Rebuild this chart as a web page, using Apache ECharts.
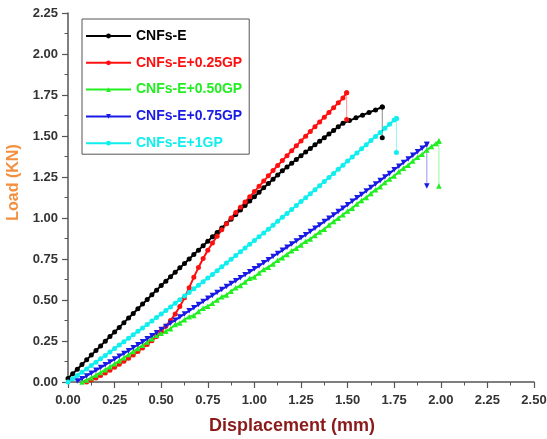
<!DOCTYPE html>
<html>
<head>
<meta charset="utf-8">
<script src="https://cdn.jsdelivr.net/npm/echarts@6/dist/echarts.min.js"></script>
<style>
  html, body { margin: 0; padding: 0; background: #ffffff; }
  #chart { width: 547px; height: 439px; }
</style>
</head>
<body>
<div id="chart"></div>
<script>
// Displacement grid (mm) shared by the load readings below
const DISP = [
  0, 0.025, 0.05, 0.075, 0.1, 0.125, 0.15, 0.175, 0.2, 0.225,
  0.25, 0.275, 0.3, 0.325, 0.35, 0.375, 0.4, 0.425, 0.45, 0.475,
  0.5, 0.525, 0.55, 0.575, 0.6, 0.625, 0.65, 0.675, 0.7, 0.725,
  0.75, 0.775, 0.8, 0.825, 0.85, 0.875, 0.9, 0.925, 0.95, 0.975,
  1.0, 1.025, 1.05, 1.075, 1.1, 1.125, 1.15, 1.175, 1.2, 1.225,
  1.25, 1.275, 1.3, 1.325, 1.35, 1.375, 1.4, 1.425, 1.45, 1.475,
  1.5, 1.525, 1.55, 1.575, 1.6, 1.625, 1.65, 1.675, 1.7, 1.725,
  1.75, 1.775, 1.8, 1.825, 1.85, 1.875, 1.9, 1.925, 1.95, 1.975, 2.0
];

// Load (kN) per specimen, aligned with DISP (null = no reading yet)
const LOAD_E = [
  0.022, 0.05, 0.078, 0.107, 0.135, 0.164, 0.192, 0.22, 0.249, 0.277,
  0.305, 0.333, 0.362, 0.39, 0.418, 0.447, 0.475, 0.503, 0.532, 0.56,
  0.588, 0.615, 0.642, 0.669, 0.696, 0.723, 0.75, 0.777, 0.804, 0.831,
  0.858, 0.885, 0.912, 0.939, 0.966, 0.993, 1.022, 1.049, 1.076, 1.103,
  1.13, 1.157, 1.184, 1.21, 1.236, 1.262, 1.288, 1.311, 1.334, 1.357,
  1.38, 1.402, 1.424, 1.446, 1.468, 1.49, 1.512, 1.534, 1.556, 1.578
];
const END_E = [[1.51, 1.594], [1.545, 1.611], [1.58, 1.627], [1.615, 1.643], [1.65, 1.659], [1.686, 1.677]];
const DROP_E = [[1.686, 1.677], [1.686, 1.49]];

const LOAD_025 = [
  null, null, null, null, 0, 0.012, 0.025, 0.04, 0.055, 0.072,
  0.09, 0.108, 0.126, 0.145, 0.165, 0.186, 0.207, 0.229, 0.252, 0.278,
  0.31, 0.34, 0.375, 0.415, 0.46, 0.513, 0.575, 0.638, 0.698, 0.753,
  0.803, 0.848, 0.889, 0.928, 0.965, 1.0, 1.033, 1.065, 1.097, 1.129,
  1.161, 1.193, 1.225, 1.257, 1.289, 1.32, 1.35, 1.38, 1.41, 1.44,
  1.47, 1.499, 1.528, 1.557, 1.586, 1.615, 1.644, 1.673, 1.702, 1.731
];
const END_025 = [[1.495, 1.764]];
const DROP_025 = [[1.495, 1.764], [1.495, 1.60]];

const LOAD_050 = [
  null, null, null, 0, 0.012, 0.026, 0.042, 0.058, 0.075, 0.093,
  0.111, 0.129, 0.148, 0.167, 0.186, 0.205, 0.224, 0.244, 0.264, 0.285,
  0.297, 0.31, 0.325, 0.35, 0.36, 0.38, 0.398, 0.405, 0.43, 0.45,
  0.462, 0.48, 0.5, 0.52, 0.53, 0.553, 0.575, 0.588, 0.61, 0.632,
  0.64, 0.665, 0.686, 0.7, 0.72, 0.742, 0.758, 0.778, 0.8, 0.815,
  0.836, 0.858, 0.872, 0.894, 0.915, 0.932, 0.957, 0.978, 0.998, 1.02,
  1.042, 1.06, 1.085, 1.107, 1.125, 1.15, 1.172, 1.19, 1.216, 1.238,
  1.256, 1.282, 1.304, 1.322, 1.348, 1.37, 1.388, 1.414, 1.436, 1.455
];
const END_050 = [[1.99, 1.47]];
const DROP_050 = [[1.99, 1.47], [1.99, 1.195]];

const LOAD_075 = [
  null, null, 0.006, 0.02, 0.037, 0.054, 0.071, 0.088, 0.105, 0.122,
  0.14, 0.157, 0.174, 0.191, 0.209, 0.227, 0.245, 0.263, 0.282, 0.301,
  0.32, 0.339, 0.358, 0.377, 0.396, 0.415, 0.434, 0.453, 0.472, 0.491,
  0.51, 0.528, 0.546, 0.564, 0.582, 0.6, 0.618, 0.636, 0.654, 0.672,
  0.69, 0.708, 0.727, 0.746, 0.765, 0.784, 0.803, 0.822, 0.841, 0.86,
  0.879, 0.898, 0.918, 0.938, 0.958, 0.978, 0.998, 1.018, 1.039, 1.06,
  1.081, 1.102, 1.123, 1.144, 1.165, 1.186, 1.207, 1.228, 1.25, 1.272,
  1.294, 1.316, 1.338, 1.36, 1.382, 1.404, 1.426, 1.448
];
const END_075 = [];
const DROP_075 = [[1.925, 1.448], [1.925, 1.195]];

const LOAD_1 = [
  0, 0.02, 0.04, 0.06, 0.08, 0.101, 0.121, 0.142, 0.162, 0.183,
  0.204, 0.225, 0.246, 0.267, 0.288, 0.309, 0.33, 0.351, 0.372, 0.393,
  0.414, 0.436, 0.458, 0.48, 0.502, 0.524, 0.546, 0.568, 0.59, 0.612,
  0.634, 0.656, 0.679, 0.702, 0.725, 0.748, 0.771, 0.794, 0.817, 0.84,
  0.863, 0.886, 0.909, 0.932, 0.956, 0.98, 1.004, 1.028, 1.052, 1.076,
  1.1, 1.124, 1.148, 1.172, 1.197, 1.222, 1.247, 1.272, 1.297, 1.322,
  1.347, 1.372, 1.397, 1.422, 1.447, 1.472, 1.497, 1.522, 1.547, 1.572,
  1.597
];
const END_1 = [[1.762, 1.607]];
const DROP_1 = [[1.762, 1.607], [1.762, 1.40]];

const SERIES_NAMES = ['CNFs-E', 'CNFs-E+0.25GP', 'CNFs-E+0.50GP', 'CNFs-E+0.75GP', 'CNFs-E+1GP'];
const X_TICKS = [0, 0.25, 0.5, 0.75, 1.0, 1.25, 1.5, 1.75, 2.0, 2.25, 2.5];
const Y_TICKS = [0, 0.25, 0.5, 0.75, 1.0, 1.25, 1.5, 1.75, 2.0, 2.25];

function toPairs(loads, tail) {
  const pts = [];
  loads.forEach((v, i) => { if (v !== null) pts.push([DISP[i], v]); });
  return pts.concat(tail);
}

const FONT = "'Liberation Sans', Arial, sans-serif";
const AXIS_COLOR = '#555555';

const specs = [
  { name: SERIES_NAMES[0], loads: LOAD_E,   end: END_E,   drop: DROP_E,   color: '#000000', symbol: 'circle',   size: 5,   rotate: 0 },
  { name: SERIES_NAMES[1], loads: LOAD_025, end: END_025, drop: DROP_025, color: '#ff1010', symbol: 'circle',   size: 5,   rotate: 0 },
  { name: SERIES_NAMES[2], loads: LOAD_050, end: END_050, drop: DROP_050, color: '#22ee22', symbol: 'triangle', size: 5.5, rotate: 0 },
  { name: SERIES_NAMES[3], loads: LOAD_075, end: END_075, drop: DROP_075, color: '#1a1ae6', symbol: 'triangle', size: 5.5, rotate: 180 },
  { name: SERIES_NAMES[4], loads: LOAD_1,   end: END_1,   drop: DROP_1,   color: '#11eeee', symbol: 'circle',   size: 5,   rotate: 0 }
];

const chart = echarts.init(document.getElementById('chart'), null, { renderer: 'canvas' });

const axisCommon = {
  type: 'value',
  nameLocation: 'middle',
  axisLine: { show: true, lineStyle: { color: AXIS_COLOR, width: 1.5 } },
  axisTick: { show: true, inside: false, length: 6, lineStyle: { color: AXIS_COLOR, width: 1.2 } },
  minorTick: { show: true, splitNumber: 2, length: 3.5, lineStyle: { color: AXIS_COLOR, width: 1 } },
  splitLine: { show: false },
  minorSplitLine: { show: false }
};

// Each specimen: main curve (with legend) plus a thin, lighter failure drop
const seriesList = [];
specs.forEach(s => {
  seriesList.push({
    name: s.name,
    type: 'line',
    data: toPairs(s.loads, s.end),
    symbol: s.symbol,
    symbolSize: s.size,
    symbolRotate: s.rotate,
    showSymbol: true,
    showAllSymbol: true,
    clip: false,
    lineStyle: { color: s.color, width: 2 },
    itemStyle: { color: s.color },
    emphasis: { disabled: true },
    silent: true
  });
});
specs.forEach(s => {
  seriesList.push({
    name: s.name,
    type: 'line',
    data: s.drop,
    symbol: s.symbol,
    symbolSize: s.size,
    symbolRotate: s.rotate,
    showSymbol: true,
    clip: false,
    lineStyle: { color: s.color, width: 1, opacity: 0.45 },
    itemStyle: { color: s.color },
    emphasis: { disabled: true },
    silent: true
  });
});

chart.setOption({
  animation: false,
  backgroundColor: '#ffffff',
  grid: { left: 68, right: 13, top: 13, bottom: 57, containLabel: false, outerBoundsMode: 'none' },
  legend: {
    orient: 'vertical',
    left: 82,
    top: 19,
    padding: [10, 7, 4, 3],
    itemGap: 12.8,
    itemWidth: 45,
    itemHeight: 6,
    borderColor: '#555555',
    borderWidth: 1,
    selectedMode: false,
    textStyle: { fontFamily: FONT, fontWeight: 'bold', fontSize: 14 },
    data: specs.map(s => ({ name: s.name, textStyle: { color: s.color } }))
  },
  xAxis: Object.assign({}, axisCommon, {
    min: X_TICKS[0],
    max: X_TICKS[X_TICKS.length - 1],
    interval: X_TICKS[1] - X_TICKS[0],
    name: 'Displacement (mm)',
    nameGap: 35,
    nameTextStyle: { color: '#8b1a1a', fontFamily: FONT, fontWeight: 'bold', fontSize: 18, padding: [0, 18, 0, 0] },
    axisLabel: { formatter: v => v.toFixed(2), fontFamily: FONT, fontWeight: 'bold', fontSize: 13, color: '#333333', margin: 12 }
  }),
  yAxis: Object.assign({}, axisCommon, {
    min: Y_TICKS[0],
    max: Y_TICKS[Y_TICKS.length - 1],
    interval: Y_TICKS[1] - Y_TICKS[0],
    name: 'Load (KN)',
    nameGap: 36,
    nameRotate: 90,
    nameTextStyle: { color: '#f39040', fontFamily: FONT, fontWeight: 'bold', fontSize: 16, padding: [0, 0, 0, 30] },
    axisLabel: { formatter: v => v.toFixed(2), fontFamily: FONT, fontWeight: 'bold', fontSize: 13, color: '#333333', margin: 10 }
  }),
  series: seriesList
});
</script>
</body>
</html>
